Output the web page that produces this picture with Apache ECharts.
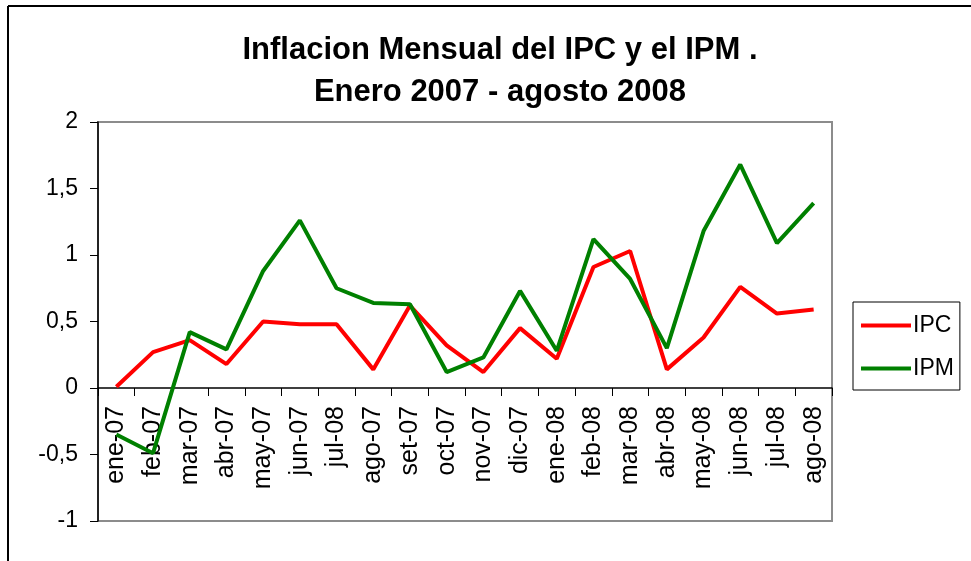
<!DOCTYPE html>
<html>
<head>
<meta charset="utf-8">
<script src="https://cdn.jsdelivr.net/npm/echarts@6/dist/echarts.min.js"></script>
<style>
  html, body { margin: 0; padding: 0; background: #fff; }
  #chart { width: 971px; height: 561px; }
</style>
</head>
<body>
<div id="chart"></div>
<script>
const months = ["ene-07", "feb-07", "mar-07", "abr-07", "may-07", "jun-07", "jul-08", "ago-07", "set-07", "oct-07",
  "nov-07", "dic-07", "ene-08", "feb-08", "mar-08", "abr-08", "may-08", "jun-08", "jul-08", "ago-08"];
const ipc = [0.01, 0.27, 0.36, 0.18, 0.50, 0.48, 0.48, 0.14, 0.62, 0.32,
  0.12, 0.45, 0.22, 0.91, 1.03, 0.14, 0.38, 0.76, 0.56, 0.59];
const ipm = [-0.35, -0.49, 0.42, 0.29, 0.88, 1.26, 0.75, 0.64, 0.63, 0.12,
  0.23, 0.73, 0.28, 1.12, 0.82, 0.30, 1.18, 1.68, 1.09, 1.39];

const font = "Liberation Sans, Arial, sans-serif";
const yMin = -1, yMax = 2;
const gridTop = 122, gridBottom = 40, chartH = 561;
// shift the category axis up to the zero line
const plotH = chartH - gridTop - gridBottom;
const zeroOffset = -plotH * (0 - yMin) / (yMax - yMin);

const chart = echarts.init(document.getElementById("chart"));

chart.setOption({
  animation: false,
  backgroundColor: "#fff",
  title: {
    text: "Inflacion Mensual del IPC y el IPM .\nEnero 2007 - agosto 2008",
    left: 495,
    textAlign: "center",
    top: 24,
    textStyle: { fontFamily: font, fontSize: 31, fontWeight: "bold", color: "#000", lineHeight: 42 }
  },
  graphic: [
    { type: "line", shape: { x1: 8, y1: 6, x2: 971, y2: 6 }, style: { stroke: "#000", lineWidth: 2 } },
    { type: "line", shape: { x1: 8, y1: 6, x2: 8, y2: 561 }, style: { stroke: "#000", lineWidth: 2 } }
  ],
  legend: {
    orient: "vertical",
    left: 853,
    top: 302,
    width: 116,
    padding: [12, 6, 10, 8],
    itemGap: 20,
    itemWidth: 50,
    itemHeight: 4,
    backgroundColor: "#fff",
    borderColor: "#000",
    borderWidth: 1,
    borderRadius: 0,
    icon: "rect",
    textStyle: { fontFamily: font, fontSize: 23, color: "#000", padding: [0, 0, 0, -3] },
    data: ["IPC", "IPM"]
  },
  grid: {
    left: 98, top: gridTop, right: 139, bottom: gridBottom,
    outerBoundsMode: "none",
    containLabel: false,
    show: true, borderColor: "#8c8c8c", borderWidth: 2, backgroundColor: "#fff"
  },
  xAxis: {
    type: "category",
    data: months,
    position: "bottom",
    offset: zeroOffset,
    boundaryGap: true,
    axisLine: { onZero: false, lineStyle: { color: "#000", width: 1.5 } },
    axisTick: { show: true, length: 8, interval: 0, lineStyle: { color: "#000" } },
    axisLabel: { interval: 0, rotate: 90, margin: 18, fontFamily: font, fontSize: 25, color: "#000" },
    splitLine: { show: false }
  },
  yAxis: {
    type: "value",
    min: yMin, max: yMax, interval: 0.5,
    axisLine: { show: true, lineStyle: { color: "#000", width: 1.5 } },
    axisTick: { show: true, length: 8, lineStyle: { color: "#000" } },
    axisLabel: {
      margin: 20, fontFamily: font, fontSize: 23, color: "#000",
      formatter: v => String(v).replace(".", ",")
    },
    splitLine: { show: false }
  },
  series: [
    { name: "IPC", type: "line", data: ipc, symbol: "none", lineStyle: { color: "#ff0000", width: 4 }, itemStyle: { color: "#ff0000" } },
    { name: "IPM", type: "line", data: ipm, symbol: "none", lineStyle: { color: "#008000", width: 4 }, itemStyle: { color: "#008000" } }
  ]
});
</script>
</body>
</html>
